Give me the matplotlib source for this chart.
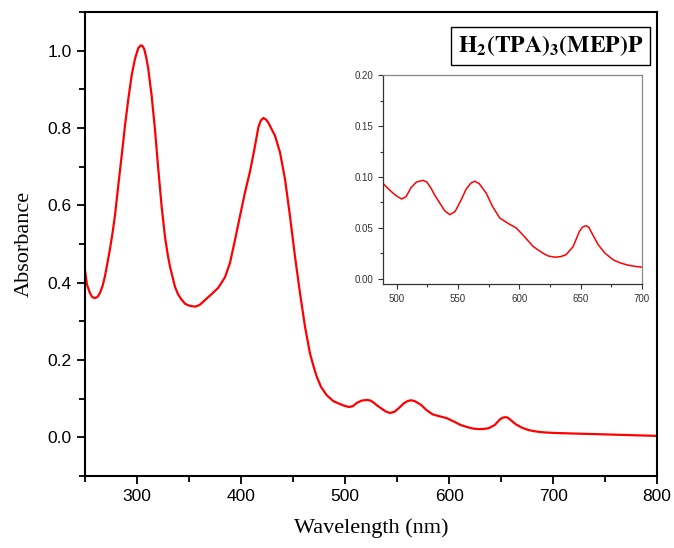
import matplotlib
matplotlib.use("Agg")
import matplotlib.pyplot as plt
from matplotlib.ticker import MultipleLocator

# Absorption spectrum (wavelength nm, absorbance)
wavelength = [250, 252, 254.8, 257, 259.6, 262, 264.4, 267, 269.2, 271.5, 274, 276.5, 278.8,
              282, 285.3, 288.5, 291.7, 294.9, 298.1, 301.3, 303.8, 305.5, 307, 309, 310.9,
              314.1, 317.3, 320.5, 323.7, 326.9, 329.5, 331.7, 336.5, 339.5, 342.9, 346.5,
              351, 355.8, 360, 363, 367, 372, 378.2, 384.6, 389.4, 394.2, 399, 403.8, 408.7,
              413.5, 416.7, 419, 421.5, 424, 426.3, 432.7, 437.5, 442.3, 447.1, 451.9, 456.7,
              461.5, 466.3, 469.5, 472.8, 477, 482.4, 488.8, 495.2, 499, 503.8, 507.5, 511.4,
              516, 521.4, 524.5, 527.8, 531, 535, 539, 543.2, 547.5, 552.7, 556.5, 560.4,
              563.5, 567.2, 573, 578.1, 584, 590, 597.5, 604, 611.2, 619, 623.5, 628.9, 633.5,
              638, 643.9, 648.9, 651.5, 654.3, 656.5, 658.4, 664.3, 670, 676.5, 682, 687.5,
              693, 699.7, 720, 745, 770, 800]
absorbance = [0.434, 0.395, 0.373, 0.363, 0.360, 0.363, 0.373, 0.392, 0.416, 0.449, 0.486,
              0.528, 0.572, 0.650, 0.728, 0.806, 0.875, 0.936, 0.979, 1.007, 1.014, 1.012,
              1.004, 0.982, 0.953, 0.884, 0.797, 0.694, 0.598, 0.520, 0.474, 0.442, 0.390,
              0.370, 0.356, 0.345, 0.340, 0.338, 0.342, 0.349, 0.359, 0.371, 0.387, 0.414,
              0.451, 0.510, 0.572, 0.633, 0.688, 0.754, 0.802, 0.819, 0.826, 0.822, 0.814,
              0.780, 0.737, 0.668, 0.572, 0.468, 0.373, 0.287, 0.217, 0.186, 0.157, 0.130,
              0.109, 0.0935, 0.086, 0.082, 0.0784, 0.0805, 0.0892, 0.095, 0.0967, 0.095,
              0.0892, 0.082, 0.0745, 0.067, 0.063, 0.066, 0.078, 0.088, 0.094, 0.0958,
              0.0935, 0.084, 0.071, 0.0597, 0.055, 0.0499, 0.0416, 0.0318, 0.0253, 0.0225,
              0.0213, 0.0218, 0.0236, 0.0318, 0.0465, 0.0508, 0.0522, 0.0508, 0.0465, 0.0335,
              0.025, 0.0187, 0.0158, 0.0138, 0.0125, 0.0115, 0.0098, 0.0080, 0.0060, 0.0037]

title_text = r"$\mathbf{H_2(TPA)_3(MEP)P}$"
xlabel = "Wavelength (nm)"
ylabel = "Absorbance"

plt.rcParams["mathtext.fontset"] = "stix"

fig = plt.figure(figsize=(6.74, 5.48), dpi=100)
ax = fig.add_axes([0.126, 0.1314, 0.849, 0.8466])
ax.plot(wavelength, absorbance, color="#ff0000", lw=1.6, solid_joinstyle="round")
ax.set_xlim(250, 800)
ax.set_ylim(-0.1, 1.1)
ax.xaxis.set_minor_locator(MultipleLocator(50))
ax.yaxis.set_minor_locator(MultipleLocator(0.1))
ax.tick_params(which="both", direction="out", width=1.3, colors="black")
ax.tick_params(which="major", length=6)
ax.tick_params(which="minor", length=4)
ax.set_xticks([300, 400, 500, 600, 700, 800])
ax.set_xticklabels(["300", "400", "500", "600", "700", "800"], fontfamily="Liberation Sans", fontsize=12.5)
ax.set_yticks([0.0, 0.2, 0.4, 0.6, 0.8, 1.0])
ax.set_yticklabels(["0.0", "0.2", "0.4", "0.6", "0.8", "1.0"], fontfamily="Liberation Sans", fontsize=12.5)
for s in ax.spines.values():
    s.set_linewidth(1.5)
ax.set_xlabel(xlabel, fontfamily="Liberation Serif", fontsize=16, labelpad=10)
ax.set_ylabel(ylabel, fontfamily="Liberation Serif", fontsize=16, labelpad=10)

ax.text(0.814, 0.927, title_text, transform=ax.transAxes, fontsize=17,
        ha="center", va="center",
        bbox=dict(boxstyle="square,pad=0.28", fc="white", ec="black", lw=1.0))

# Inset
ins = fig.add_axes([0.568, 0.4818, 0.3845, 0.3812])
ins.plot(wavelength, absorbance, color="#ff0000", lw=1.1, solid_joinstyle="round")
ins.set_xlim(488.6, 700)
ins.set_ylim(-0.005, 0.2)
ins.xaxis.set_minor_locator(MultipleLocator(25))
ins.yaxis.set_minor_locator(MultipleLocator(0.025))
ins.tick_params(which="both", direction="out", width=0.8, colors="#333333", labelsize=7)
ins.tick_params(which="major", length=3.5)
ins.tick_params(which="minor", length=2)
ins.set_yticks([0.0, 0.05, 0.10, 0.15, 0.20])
ins.set_yticklabels(["0.00", "0.05", "0.10", "0.15", "0.20"], fontfamily="Liberation Sans", fontsize=7)
ins.set_xticks([500, 550, 600, 650, 700])
ins.set_xticklabels(["500", "550", "600", "650", "700"], fontfamily="Liberation Sans", fontsize=7)
for k, s in ins.spines.items():
    s.set_linewidth(0.9)
    s.set_color("#333333" if k in ("left", "bottom") else "#888888")

fig.savefig("out.png", dpi=100)
